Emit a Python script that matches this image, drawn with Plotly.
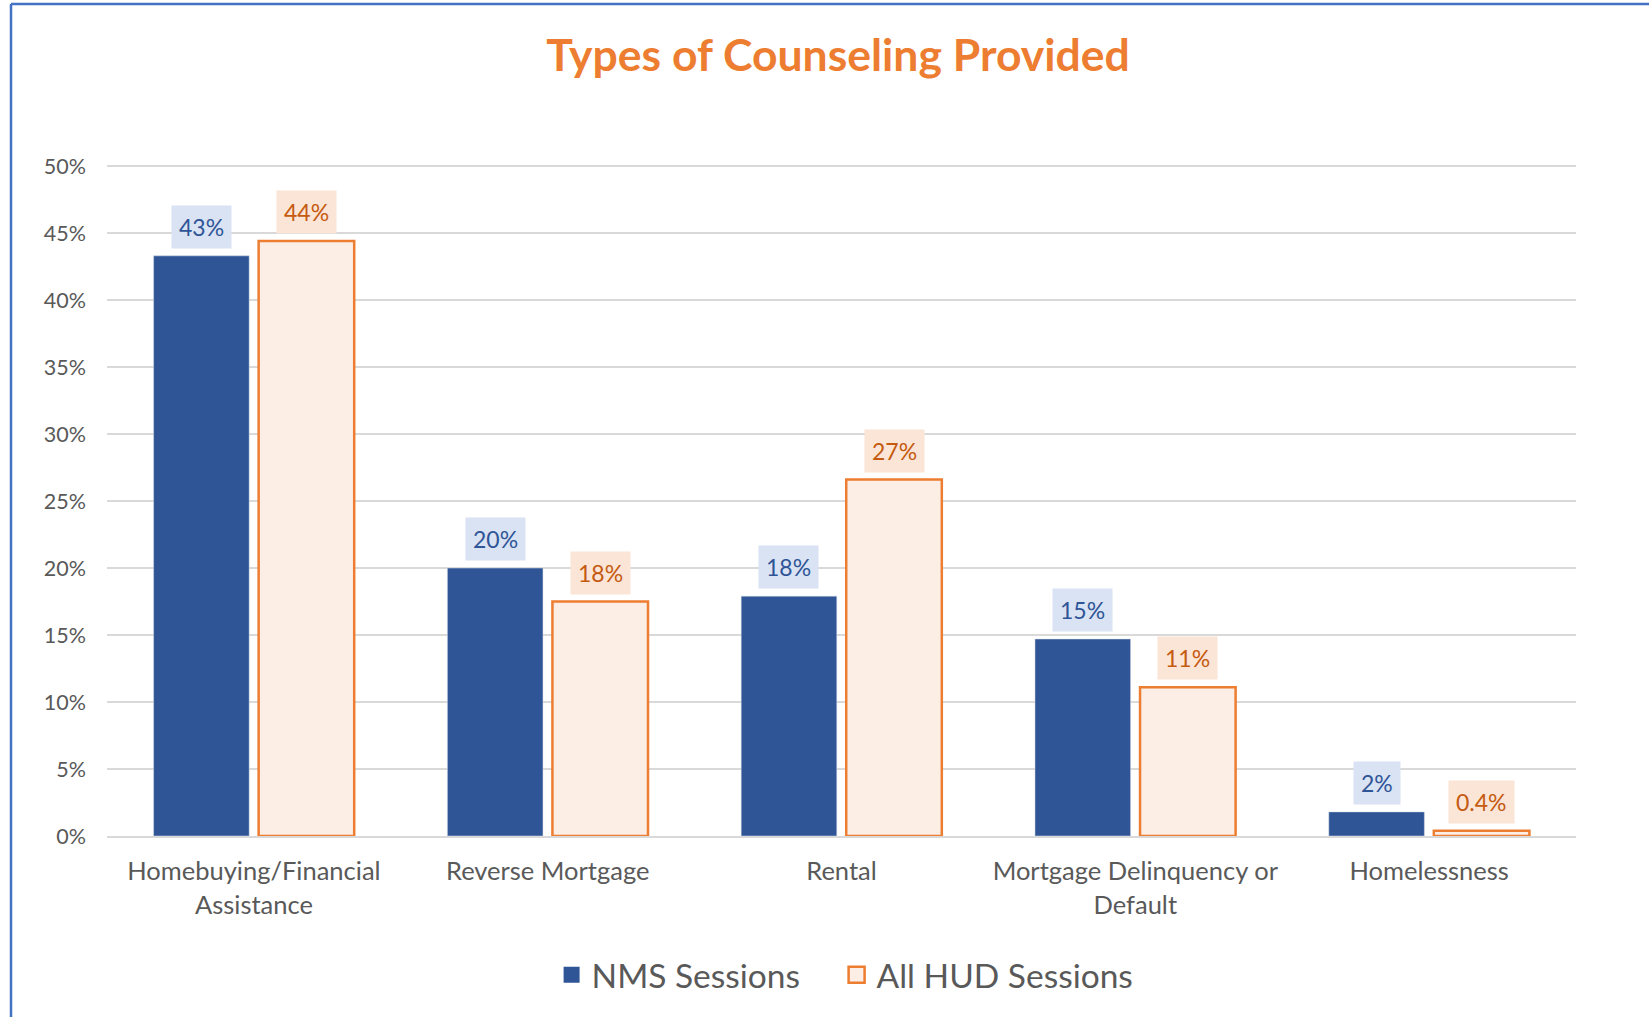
import plotly.graph_objects as go

categories = ["Homebuying/Financial<br>Assistance", "Reverse Mortgage", "Rental",
              "Mortgage Delinquency or<br>Default", "Homelessness"]
nms_values = [0.433, 0.200, 0.179, 0.147, 0.018]
hud_values = [0.444, 0.175, 0.266, 0.111, 0.004]
nms_labels = ["43%", "20%", "18%", "15%", "2%"]
hud_labels = ["44%", "18%", "27%", "11%", "0.4%"]
y_ticks = [0, 0.05, 0.10, 0.15, 0.20, 0.25, 0.30, 0.35, 0.40, 0.45, 0.50]
y_tick_text = ["0%", "5%", "10%", "15%", "20%", "25%", "30%", "35%", "40%", "45%", "50%"]

FONT = "Lato, 'Open Sans', sans-serif"
BLUE = "#2F5597"
ORANGE = "#ED7D31"
PEACH = "#FCEEE5"
GREY = "#595959"

W, H = 1649, 1017
ML, MR, MT, MB = 107, 73, 165, 181
pw, ph = W - ML - MR, H - MT - MB

fig = go.Figure()
fig.add_trace(go.Bar(x=categories, y=nms_values, name="NMS Sessions",
                     marker=dict(color=BLUE, line=dict(color="#D6DCE5", width=0.5)),
                     showlegend=False))
fig.add_trace(go.Bar(x=categories, y=hud_values, name="All HUD Sessions",
                     marker=dict(color=PEACH, line=dict(color=ORANGE, width=2.5)),
                     showlegend=False))

# legend proxies with larger square symbols, each in its own legend box
fig.add_trace(go.Scatter(x=[None], y=[None], mode="markers", name="NMS Sessions",
                         legend="legend",
                         marker=dict(symbol="square", size=20, color=BLUE,
                                     line=dict(width=0))))
fig.add_trace(go.Scatter(x=[None], y=[None], mode="markers", name="All HUD Sessions",
                         legend="legend2",
                         marker=dict(symbol="square", size=19, color=PEACH,
                                     line=dict(color=ORANGE, width=2.5))))

bargap = 0.285
off = (1 - bargap) / 4
for i in range(len(categories)):
    fig.add_annotation(x=i - off, y=nms_values[i], xref="x", yref="y",
                       text=nms_labels[i], showarrow=False, yanchor="bottom", yshift=7,
                       font=dict(family=FONT, size=23, color=BLUE),
                       bgcolor="#DAE3F3", borderpad=7)
    fig.add_annotation(x=i + off, y=hud_values[i], xref="x", yref="y",
                       text=hud_labels[i], showarrow=False, yanchor="bottom", yshift=7,
                       font=dict(family=FONT, size=23, color="#C55A11"),
                       bgcolor="#FBE5D6", borderpad=7)

# frame lines (left and top) of the original chart area
fig.add_shape(type="line", xref="paper", yref="paper",
              x0=(11 - ML) / pw, x1=(11 - ML) / pw,
              y0=-(MB + 10) / ph, y1=1 + (MT - 4) / ph,
              line=dict(color="#4472C4", width=2.5))
fig.add_shape(type="line", xref="paper", yref="paper",
              x0=(11 - ML) / pw, x1=(W + 10 - ML) / pw,
              y0=1 + (MT - 4) / ph, y1=1 + (MT - 4) / ph,
              line=dict(color="#4472C4", width=2.5))

leg_common = dict(orientation="h", xanchor="left",
                  y=-(975 - (H - MB)) / ph, yanchor="middle",
                  font=dict(family=FONT, size=33.5, color=GREY),
                  itemsizing="trace", itemwidth=30, bgcolor="rgba(0,0,0,0)")

fig.update_layout(
    width=W, height=H,
    margin=dict(l=ML, r=MR, t=MT, b=MB),
    paper_bgcolor="white", plot_bgcolor="white",
    barmode="group", bargap=bargap, bargroupgap=0.09,
    title=dict(text="<b>Types of Counseling Provided</b>",
               font=dict(family=FONT, size=44.5, color=ORANGE),
               x=838 / W, xanchor="center", y=1 - 55 / H, yanchor="middle"),
    font=dict(family=FONT, color=GREY),
    legend=dict(x=(551.6 - ML) / pw, **leg_common),
    legend2=dict(x=(836.6 - ML) / pw, **leg_common),
    xaxis=dict(tickfont=dict(family=FONT, size=25.5, color=GREY),
               showline=True, linecolor="#D9D9D9", linewidth=1.5,
               ticks="", ticklabelstandoff=12, range=[-0.5, 4.5]),
    yaxis=dict(range=[0, 0.5008], tickvals=y_ticks, ticktext=y_tick_text,
               tickfont=dict(family=FONT, size=21.5, color=GREY),
               showgrid=True, gridcolor="#D9D9D9", gridwidth=1.5,
               zeroline=False, ticks="", ticklabelstandoff=20),
)

fig.write_html("out.html", config={"displayModeBar": False},
               post_script="document.body.style.margin='0';")
